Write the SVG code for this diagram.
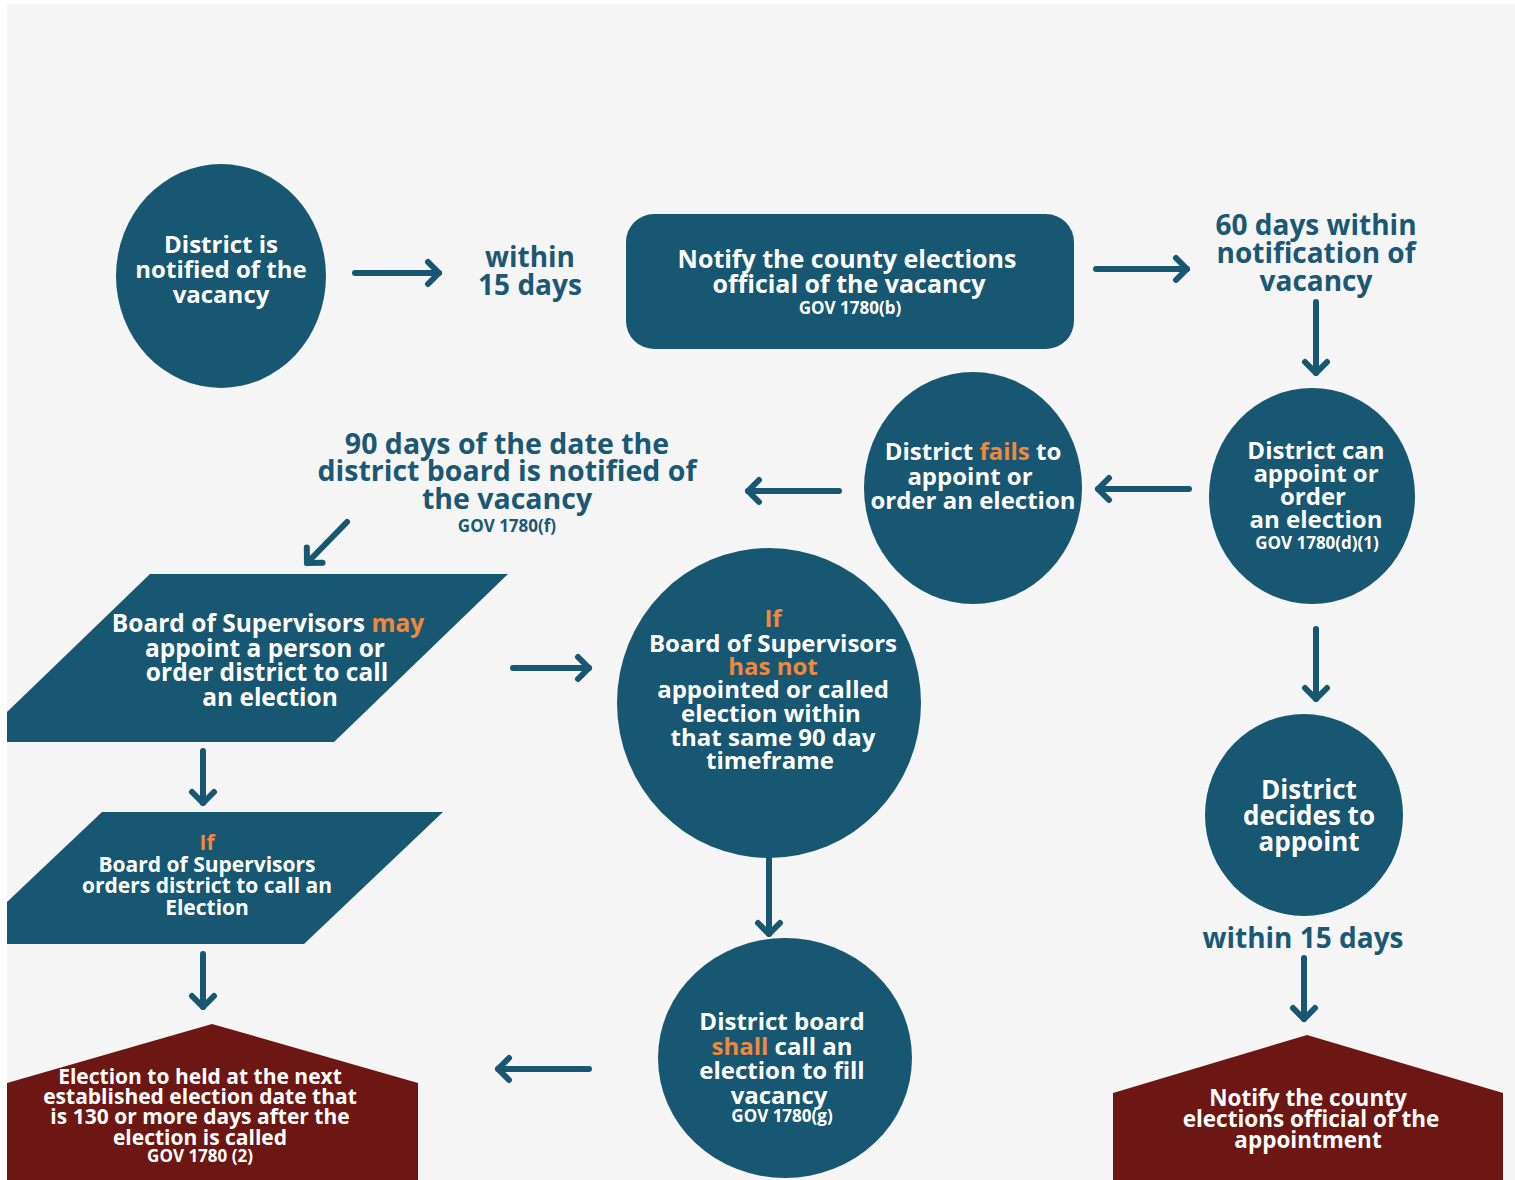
<svg xmlns="http://www.w3.org/2000/svg" width="1515" height="1180" viewBox="0 0 1515 1180">
<defs>
<style>
text{font-family:"Open Sans","Noto Sans","DejaVu Sans",sans-serif;font-weight:700;text-anchor:middle}
.w{fill:#ffffff}
.o{fill:#f0883e}
.lbl{fill:#1a5874}
.node{fill:#185771}
.red{fill:#6d1715}
.conn{stroke:#185771;stroke-width:6;stroke-linecap:round;fill:none}
</style>
<marker id="ah" viewBox="-15 -15 30 30" markerWidth="30" markerHeight="30" markerUnits="userSpaceOnUse" refX="0" refY="0" orient="auto">
<path d="M-11,-11 L0,0 L-11,11" fill="none" stroke="#185771" stroke-width="6" stroke-linecap="round" stroke-linejoin="round"/>
</marker>
</defs>
<rect x="0" y="0" width="1515" height="1180" fill="#ffffff"/>
<rect x="7" y="4" width="1508" height="1176" fill="#f5f5f5"/>

<g id="connectors">
<line class="conn" x1="355" y1="273" x2="439" y2="273" marker-end="url(#ah)"/>
<line class="conn" x1="1096" y1="269" x2="1187" y2="269" marker-end="url(#ah)"/>
<line class="conn" x1="1316" y1="302" x2="1316" y2="373" marker-end="url(#ah)"/>
<line class="conn" x1="1189" y1="489" x2="1098" y2="489" marker-end="url(#ah)"/>
<line class="conn" x1="839" y1="491" x2="748" y2="491" marker-end="url(#ah)"/>
<line class="conn" x1="347" y1="522" x2="307" y2="563" marker-end="url(#ah)"/>
<line class="conn" x1="513" y1="668" x2="589" y2="668" marker-end="url(#ah)"/>
<line class="conn" x1="203" y1="751" x2="203" y2="803" marker-end="url(#ah)"/>
<line class="conn" x1="203" y1="954" x2="203" y2="1007" marker-end="url(#ah)"/>
<line class="conn" x1="769" y1="858" x2="769" y2="934" marker-end="url(#ah)"/>
<line class="conn" x1="589" y1="1069" x2="498" y2="1069" marker-end="url(#ah)"/>
<line class="conn" x1="1316" y1="629" x2="1316" y2="699" marker-end="url(#ah)"/>
<line class="conn" x1="1304" y1="958" x2="1304" y2="1019" marker-end="url(#ah)"/>
</g>

<g id="n-notified">
<ellipse class="node" cx="221" cy="276" rx="105" ry="112"/>
<text class="w" font-size="24"><tspan x="221" y="253">District is</tspan><tspan x="221" y="278">notified of the</tspan><tspan x="221" y="303">vacancy</tspan></text>
</g>

<g id="l-within15a">
<text class="lbl" font-size="28"><tspan x="530" y="267">within</tspan><tspan x="530" y="295">15 days</tspan></text>
</g>

<g id="n-notify-county">
<rect class="node" x="626" y="214" width="448" height="135" rx="28"/>
<text class="w" font-size="25"><tspan x="847" y="268">Notify the county elections</tspan><tspan x="849" y="293">official of the vacancy</tspan></text>
<text class="w" font-size="17" x="850" y="314">GOV 1780(b)</text>
</g>

<g id="l-60days">
<text class="lbl" font-size="28"><tspan x="1316" y="235">60 days within</tspan><tspan x="1316" y="263">notification of</tspan><tspan x="1316" y="291">vacancy</tspan></text>
</g>

<g id="n-can-appoint">
<ellipse class="node" cx="1312" cy="496" rx="103" ry="108"/>
<text class="w" font-size="24"><tspan x="1316" y="459">District can</tspan><tspan x="1316" y="482">appoint or</tspan><tspan x="1313" y="505">order</tspan><tspan x="1316" y="528">an election</tspan></text>
<text class="w" font-size="17" x="1317" y="549">GOV 1780(d)(1)</text>
</g>

<g id="n-fails">
<ellipse class="node" cx="973" cy="488" rx="109" ry="116"/>
<text class="w" font-size="24"><tspan x="973" y="460">District <tspan class="o">fails</tspan> to</tspan><tspan x="970" y="485">appoint or</tspan><tspan x="973" y="509">order an election</tspan></text>
</g>

<g id="l-90days">
<text class="lbl" font-size="28.5"><tspan x="507" y="454">90 days of the date the</tspan><tspan x="507" y="481">district board is notified of</tspan><tspan x="507" y="509">the vacancy</tspan></text>
<text class="lbl" font-size="17" x="507" y="532">GOV 1780(f)</text>
</g>

<g id="n-bos-may">
<polygon class="node" points="150,574 508,574 334,742 7,742 7,712"/>
<text class="w" font-size="24.5"><tspan x="268" y="632">Board of Supervisors <tspan class="o">may</tspan></tspan><tspan x="265" y="657">appoint a person or</tspan><tspan x="267" y="681">order district to call</tspan><tspan x="270" y="706">an election</tspan></text>
</g>

<g id="n-has-not">
<ellipse class="node" cx="769" cy="703" rx="152" ry="155"/>
<text class="w" font-size="24"><tspan x="773" y="627" class="o">If</tspan><tspan x="773" y="652">Board of Supervisors</tspan><tspan x="773" y="675" class="o">has not</tspan><tspan x="773" y="698">appointed or called</tspan><tspan x="771" y="722">election within</tspan><tspan x="773" y="746">that same 90 day</tspan><tspan x="770" y="769">timeframe</tspan></text>
</g>

<g id="n-bos-orders">
<polygon class="node" points="102,812 443,812 304,944 7,944 7,902"/>
<text class="w" font-size="21"><tspan x="207" y="850" class="o">If</tspan><tspan x="207" y="872">Board of Supervisors</tspan><tspan x="207" y="893">orders district to call an</tspan><tspan x="207" y="915">Election</tspan></text>
</g>

<g id="n-election-held">
<polygon class="red" points="212,1024 418,1083 418,1180 7,1180 7,1083"/>
<text class="w" font-size="21"><tspan x="200" y="1084">Election to held at the next</tspan><tspan x="200" y="1104">established election date that</tspan><tspan x="200" y="1124">is 130 or more days after the</tspan><tspan x="200" y="1145">election is called</tspan></text>
<text class="w" font-size="17" x="200" y="1162">GOV 1780 (2)</text>
</g>

<g id="n-shall-call">
<ellipse class="node" cx="785" cy="1058" rx="127" ry="120"/>
<text class="w" font-size="24"><tspan x="782" y="1030">District board</tspan><tspan x="782" y="1055"><tspan class="o">shall</tspan> call an</tspan><tspan x="782" y="1079">election to fill</tspan><tspan x="779" y="1104">vacancy</tspan></text>
<text class="w" font-size="17" x="782" y="1122">GOV 1780(g)</text>
</g>

<g id="n-decides">
<ellipse class="node" cx="1304" cy="815" rx="99" ry="101"/>
<text class="w" font-size="26"><tspan x="1309" y="799">District</tspan><tspan x="1309" y="825">decides to</tspan><tspan x="1309" y="851">appoint</tspan></text>
</g>

<g id="l-within15b">
<text class="lbl" font-size="28" x="1303" y="948">within 15 days</text>
</g>

<g id="n-notify-appointment">
<polygon class="red" points="1307,1035 1503,1093 1503,1180 1113,1180 1113,1093"/>
<text class="w" font-size="22.5"><tspan x="1308" y="1106">Notify the county</tspan><tspan x="1311" y="1127">elections official of the</tspan><tspan x="1308" y="1148">appointment</tspan></text>
</g>
</svg>
